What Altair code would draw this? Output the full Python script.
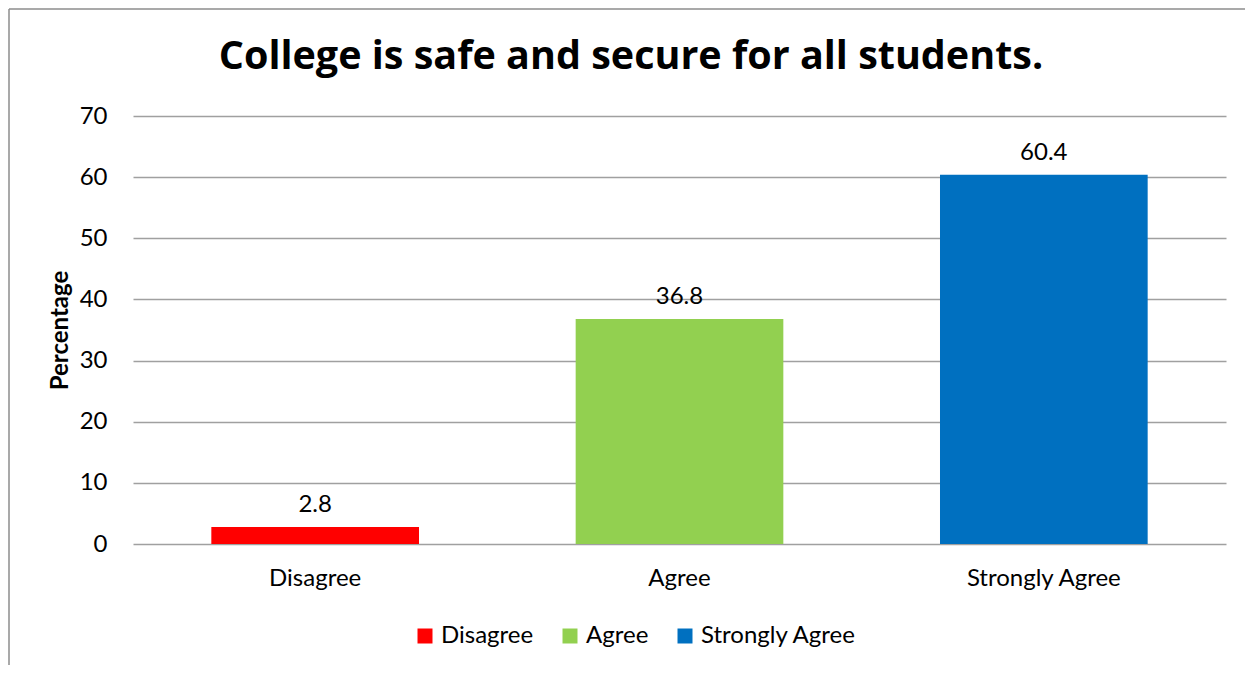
import altair as alt
import pandas as pd

categories = ["Disagree", "Agree", "Strongly Agree"]
values = [2.8, 36.8, 60.4]
colors = ["#FF0000", "#92D050", "#0070C0"]
title_text = ["College is safe and secure for all students."]

df = pd.DataFrame({"Response": categories, "Percentage": values})

FONT = "Lato"
FS = 24

x = alt.X("Response:N", sort=categories, title=None,
          scale=alt.Scale(paddingInner=0.43, paddingOuter=0.215),
          axis=alt.Axis(labelAngle=0, labelFontSize=FS, labelColor="#000000",
                        labelPadding=22, ticks=False, domain=False, labelFont=FONT))
y = alt.Y("Percentage:Q", title="Percentage",
          scale=alt.Scale(domain=[0, 70]),
          axis=alt.Axis(values=[0, 10, 20, 30, 40, 50, 60, 70], labelFontSize=FS,
                        labelColor="#000000", labelPadding=26, ticks=False, domain=False,
                        gridColor="#A0A0A0", gridWidth=1.5, titleFontSize=24,
                        titleFontWeight="bold", titleColor="#000000", titlePadding=7,
                        labelFont=FONT, titleFont=FONT))

base = alt.Chart(df)

bars = base.mark_bar().encode(
    x=x, y=y,
    color=alt.Color("Response:N", sort=categories,
                    scale=alt.Scale(domain=categories, range=colors),
                    legend=alt.Legend(title=None, orient="none", direction="horizontal",
                                      legendX=280, legendY=508, symbolType="square",
                                      symbolSize=225, symbolStrokeWidth=0,
                                      labelFontSize=FS, labelColor="#000000",
                                      labelFont=FONT, columnPadding=24,
                                      symbolOpacity=1)),
)

labels = base.mark_text(baseline="bottom", dy=-10, fontSize=FS, font=FONT,
                        color="#000000").encode(
    x=alt.X("Response:N", sort=categories),
    y=alt.Y("Percentage:Q"),
    text=alt.Text("Percentage:Q", format=".1f"),
)

title = alt.Chart(pd.DataFrame({"t": title_text})).mark_text(
    fontSize=39.5, font="Open Sans", fontWeight="bold", color="#000000",
    align="center", baseline="alphabetic"
).encode(text="t:N", x=alt.value(498), y=alt.value(-47))

frame = pd.DataFrame({"k": [0]})
border_left = alt.Chart(frame).mark_rule(color="#8C8C8C", strokeWidth=1.5).encode(
    x=alt.value(-124), y=alt.value(-107), y2=alt.value(600))
border_top = alt.Chart(frame).mark_rule(color="#8C8C8C", strokeWidth=1.5).encode(
    x=alt.value(-124), x2=alt.value(1200), y=alt.value(-107))

chart = alt.layer(border_left, border_top, title, bars, labels).properties(
    width=1093, height=428,
    autosize=alt.AutoSizeParams(type="none"),
    padding={"left": 125, "top": 108, "right": 19, "bottom": 121},
).configure(background="white").configure_view(stroke=None)

chart.save("out.html", embed_options={"renderer": "svg", "actions": False})
